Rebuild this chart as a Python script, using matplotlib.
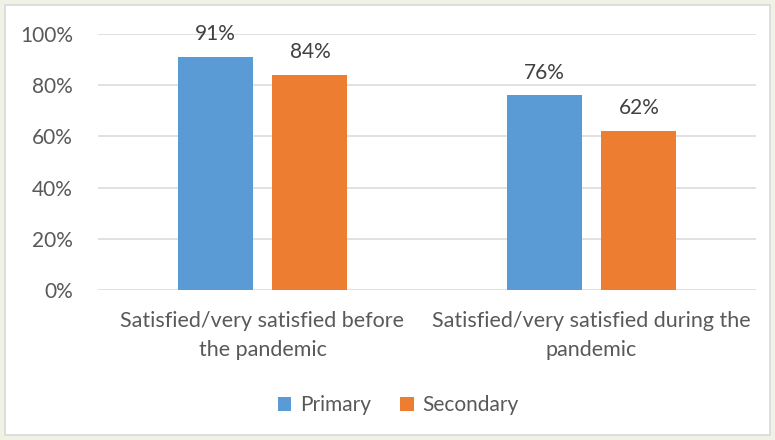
import numpy as np
import matplotlib
matplotlib.use("Agg")
import matplotlib.pyplot as plt
from matplotlib.patches import Rectangle

plt.rcParams.update({
    "font.family": ["Lato", "DejaVu Sans"],
    "text.color": "#595959",
})

categories = ["Satisfied/very satisfied before\nthe pandemic",
              "Satisfied/very satisfied during the\npandemic"]
series = ["Primary", "Secondary"]
primary = [0.91, 0.76]
secondary = [0.84, 0.62]
y_ticks = [0, 0.2, 0.4, 0.6, 0.8, 1.0]

colors = {"Primary": "#5B9BD5", "Secondary": "#ED7D31"}
FS = 15

fig = plt.figure(figsize=(7.75, 4.4), dpi=100, facecolor="#EFF2E4")
# white chart area with thin gray border
fig.patches.append(Rectangle((5 / 775, 5 / 440), 765 / 775, 430 / 440,
                             transform=fig.transFigure, facecolor="white",
                             edgecolor="#D9D9D9", linewidth=1.2, zorder=-1))

ax = fig.add_axes([98 / 775, 1 - 290 / 440, 658 / 775, 256 / 440], zorder=2)
ax.set_facecolor("none")

x = np.arange(len(categories))
w = 0.228
off = 0.144
for vals, name, sign in [(primary, "Primary", -1), (secondary, "Secondary", 1)]:
    bars = ax.bar(x + sign * off, vals, width=w, color=colors[name],
                  label=name, zorder=3)
    for b, v in zip(bars, vals):
        ax.text(b.get_x() + b.get_width() / 2, v + 0.05, f"{v:.0%}",
                ha="center", va="bottom", fontsize=FS, color="#404040")

ax.set_xlim(-0.5, 1.5)
ax.set_ylim(0, 1)
ax.set_yticks(y_ticks)
ax.set_yticklabels([f"{t:.0%}" for t in y_ticks])
ax.set_xticks(x)
ax.set_xticklabels(categories, linespacing=1.6, fontsize=15.5)
ax.tick_params(axis="y", length=0, pad=18, labelsize=FS, labelcolor="#595959")
ax.tick_params(axis="x", length=0, pad=15, labelcolor="#595959")
ax.grid(axis="y", color="#D9D9D9", linewidth=1.1, zorder=0)
for s in ax.spines.values():
    s.set_visible(False)

fig.legend(loc="center", bbox_to_anchor=(398 / 775, 1 - 405 / 440), ncol=2,
           frameon=False, fontsize=FS, handlelength=0.65, handleheight=0.65,
           handletextpad=0.4, columnspacing=1.4, labelcolor="#595959")

fig.savefig("out.png", dpi=100, facecolor=fig.get_facecolor())
